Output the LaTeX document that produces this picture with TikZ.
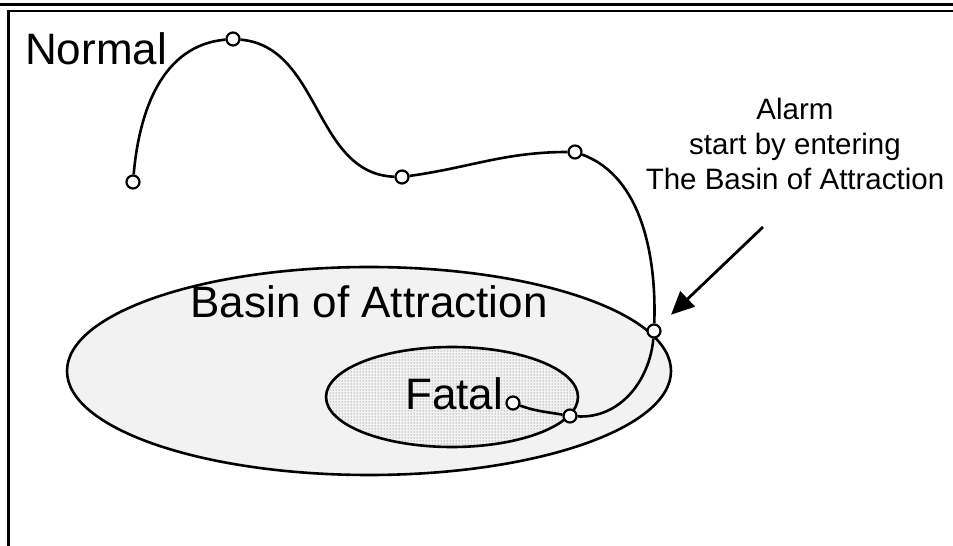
\documentclass[tikz,border=0pt]{standalone}
\usepackage{fontspec}
\setmainfont{Liberation Sans}
\usetikzlibrary{arrows.meta,patterns}

\begin{document}
\begin{tikzpicture}[
  x=1pt, y=1pt,
  bigtext/.style={inner sep=0pt, font=\fontsize{44}{50}\selectfont},
  notetext/.style={inner sep=0pt, align=center, font=\fontsize{29.5}{35}\selectfont},
  statept/.style={draw, circle, fill=white, line width=2.2pt, minimum size=13pt, inner sep=0pt},
  region/.style={draw, line width=2.6pt},
  traj/.style={line width=2.6pt},
  arr/.style={-{Triangle[length=23pt,width=21pt]}, line width=2.8pt}
]
  \clip (0,0) rectangle (953,546);
  % frame
  \draw[line width=3.5pt] (0,541.5) -- (953,541.5);
  \draw[line width=2.6pt] (8.7,-20) rectangle (980,535);

  % regions
  \draw[region, fill=gray!10] (369,175) ellipse [x radius=302, y radius=104];
  \draw[region, preaction={fill=gray!10}, pattern=dots, pattern color=black!65] (452,149) ellipse [x radius=126, y radius=50];

  % labels
  \node[bigtext, anchor=base west] (normal) at (25,481) {Normal};
  \node[bigtext, anchor=base] (basin) at (369,228) {Basin of Attraction};
  \node[bigtext, anchor=base west] (fatal) at (405,136) {Fatal};
  \node[notetext, anchor=base] (alarm) at (795,356) {Alarm\\start by entering\\The Basin of Attraction};

  % states along the trajectory
  \foreach \n/\x/\y in {1/133/364, 2/233/507, 3/402/369, 4/575/394, 5/654/215, 6/570/130, 7/513/143}
    \node[statept] (p\n) at (\x,\y) {};

  \draw[traj] (p1) to[out=85,in=185] (p2)
    to[out=-5,in=178] (p3)
    to[out=8,in=180] (p4)
    to[out=-20,in=88,looseness=0.9] (p5)
    to[out=-95,in=-3] (p6)
    to[out=170,in=-20] (p7);

  \coordinate (alarmtail) at (763,319);
  \draw[arr, shorten >=16pt] (alarmtail) -- (p5);
\end{tikzpicture}
\end{document}
